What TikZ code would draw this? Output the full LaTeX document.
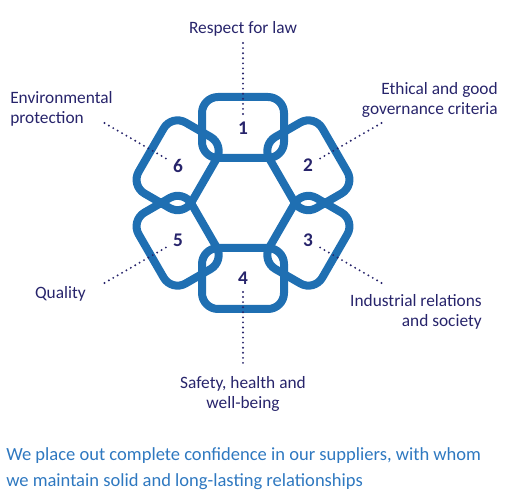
\documentclass[tikz,border=0pt]{standalone}
\usepackage{fontspec}
\setmainfont{Carlito}
\definecolor{ringblue}{HTML}{1F6FB2}
\definecolor{navy}{HTML}{27246B}
\definecolor{noteblue}{HTML}{2E78C0}
\begin{document}
\begin{tikzpicture}[
     x = 0.75pt, y = -0.75pt,
     petal/.style = {draw = ringblue, line width = 6pt, rounded corners = 12pt},
     num/.style = {font = \bfseries\fontsize{14.5}{16}\selectfont, navy},
     topic/.style = {font = \fontsize{13}{15.4}\selectfont, navy, inner sep = 0pt},
     note/.style = {font = \fontsize{13.9}{19.5}\selectfont, noteblue, inner sep = 0pt},
     lead/.style = {navy, line width = 1.6pt, line cap = round, dash pattern = on 0pt off 3.8pt}
    ]
    \useasboundingbox (0,0) rectangle (512,503);

    \begin{scope}[shift = {(243,203)}, yscale = -1]
      \foreach \k in {1,...,6}{
        \pgfmathsetmacro{\ang}{150-60*\k}
        \draw[petal, rotate = \ang-90] (-41,45) rectangle (41,106);
        \node[num] (n\k) at (\ang:75) {\k};
        \coordinate (a\k) at (\ang:89);
        \coordinate (b\k) at (\ang:164);
      }
    \end{scope}

    \foreach \k in {1,...,6}
      \draw[lead] (a\k) -- (b\k);

    % base anchor of a two-line node sits on its last line
    \node[topic, anchor = base] (law) at (243,34) {Respect for law};
    \node[topic, anchor = base east, align = right] (ethics) at (498,115)
      {Ethical and good\\governance criteria};
    \node[topic, anchor = base east, align = right] (society) at (482,327)
      {Industrial relations\\and society};
    \node[topic, anchor = base, align = center] (safety) at (243,409)
      {Safety, health and\\well-being};
    \node[topic, anchor = base east] (quality) at (86,299) {Quality};
    \node[topic, anchor = base west, align = left] (nature) at (10,124)
      {Environmental\\protection};

    \node[note, anchor = base west, align = left] (trust) at (6,487)
      {We place out complete confidence in our suppliers, with whom\\we maintain solid and long-lasting relationships};
\end{tikzpicture}
\end{document}
